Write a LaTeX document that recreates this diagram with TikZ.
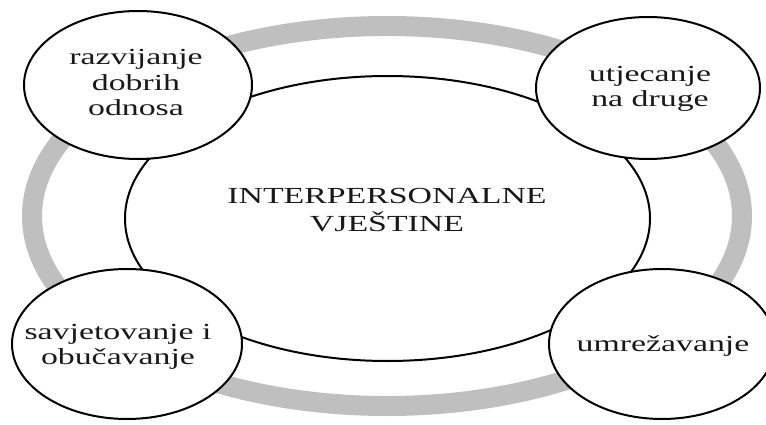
\documentclass[tikz,border=0pt]{standalone}
\usepackage{fontspec}
\usepackage{graphicx}
\setmainfont{Liberation Serif}
\usetikzlibrary{shapes.geometric}
\definecolor{ringgray}{RGB}{191,191,191}
\definecolor{txt}{RGB}{25,25,25}
\newcommand{\stretchtext}[2]{\scalebox{1.47}[1]{\fontsize{23}{#1}\selectfont\color{txt}\begin{tabular}{@{}c@{}}#2\end{tabular}}}
\tikzset{
  ring/.style={ellipse, draw=ringgray, line width=20pt, inner sep=0pt},
  core/.style={ellipse, draw=black, fill=white, line width=2pt, inner sep=0pt},
  skill/.style={ellipse, draw=black, fill=white, line width=2pt, inner sep=0pt},
  lbl/.style={inner sep=0pt}
}
\begin{document}
\begin{tikzpicture}[x=1pt,y=1pt]
\useasboundingbox (0,0) rectangle (766,424);
\node[ring, minimum width=710pt, minimum height=380pt] (ring) at (387,208) {};
\node[core, minimum width=525pt, minimum height=285pt] (core) at (387.5,205.5) {};
\node[lbl] (coretext) at (387,212) {\stretchtext{27pt}{INTERPERSONALNE\\VJEŠTINE}};
\node[skill, minimum width=228pt, minimum height=148pt] (tl) at (138,339) {};
\node[skill, minimum width=224pt, minimum height=142pt] (tr) at (648,336) {};
\node[skill, minimum width=230pt, minimum height=150pt] (bl) at (127,80) {};
\node[skill, minimum width=226pt, minimum height=150pt] (br) at (662,80) {};
\node[lbl] (tltext) at (136,339) {\stretchtext{25.5pt}{razvijanje\\dobrih\\odnosa}};
\node[lbl] (trtext) at (650,335) {\stretchtext{25.5pt}{utjecanje\\na druge}};
\node[lbl] (bltext) at (118,77) {\stretchtext{25.5pt}{savjetovanje i\\obučavanje}};
\node[lbl] (brtext) at (663,78) {\stretchtext{25.5pt}{umrežavanje}};
\end{tikzpicture}
\end{document}
